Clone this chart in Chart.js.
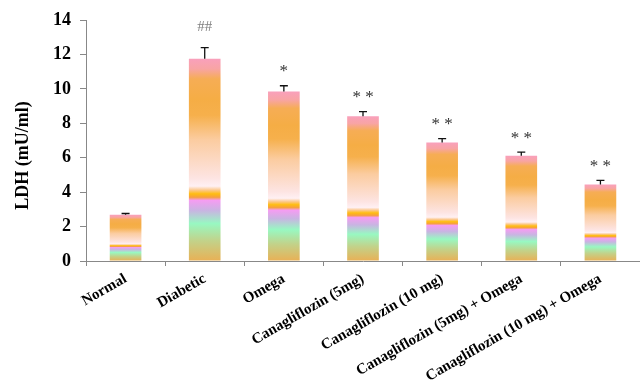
<!DOCTYPE html>
<html>
<head>
<meta charset="utf-8">
<script src="https://cdn.jsdelivr.net/npm/chart.js@4"></script>
<style>
  html, body { margin: 0; padding: 0; background: #fff; }
  #wrap { width: 640px; height: 387px; }
</style>
</head>
<body>
<div id="wrap"><canvas id="myChart"></canvas></div>
<script>
const groups = ["Normal", "Diabetic", "Omega", "Canagliflozin (5mg)", "Canagliflozin (10 mg)",
  "Canagliflozin (5mg) + Omega", "Canagliflozin (10 mg) + Omega"];
const ldhMean = [2.68, 11.75, 9.85, 8.41, 6.88, 6.12, 4.45];
const ldhErr = [0.08, 0.64, 0.33, 0.27, 0.23, 0.21, 0.23];
const sigMarks = ["", "##", "*", "* *", "* *", "* *", "* *"];
const yTicks = [0, 2, 4, 6, 8, 10, 12, 14];
const yTitle = "LDH (mU/ml)";

const serif = "'Liberation Serif', 'Times New Roman', serif";

// stops from bottom (0) to top (1) of each bar
const barStops = [
  [0, "#e9b055"], [0.1, "#c2d28a"], [0.185, "#98f8c2"], [0.25, "#c9b4e2"],
  [0.3, "#f59cf2"], [0.315, "#f6a040"], [0.332, "#ffbd10"], [0.35, "#fcc88a"],
  [0.37, "#fff0f3"], [0.41, "#fde4e2"], [0.6, "#fbcca0"], [0.72, "#f6b04c"],
  [0.8, "#f5ad45"], [0.9, "#f6ad55"], [0.95, "#f8a4a4"], [1, "#f9a0bc"]
];

function barFill(c) {
  const chart = c.chart;
  if (!chart.chartArea) return "#f5ad45";
  const y = chart.scales.y;
  const bottom = y.getPixelForValue(0);
  const top = y.getPixelForValue(c.raw);
  const g = chart.ctx.createLinearGradient(0, bottom, 0, top);
  barStops.forEach(s => g.addColorStop(s[0], s[1]));
  return g;
}

const errorBars = {
  id: "errorBars",
  afterDatasetsDraw(chart) {
    const ctx = chart.ctx;
    const y = chart.scales.y;
    const meta = chart.getDatasetMeta(0);
    ctx.save();
    meta.data.forEach((bar, i) => {
      const yTop = y.getPixelForValue(ldhMean[i] + ldhErr[i]);
      const yBar = y.getPixelForValue(ldhMean[i]);
      ctx.strokeStyle = "#111";
      ctx.lineWidth = 1.3;
      ctx.beginPath();
      ctx.moveTo(bar.x, yBar);
      ctx.lineTo(bar.x, yTop);
      ctx.moveTo(bar.x - 4, yTop);
      ctx.lineTo(bar.x + 4, yTop);
      ctx.stroke();
      if (sigMarks[i]) {
        const hash = sigMarks[i] === "##";
        ctx.fillStyle = hash ? "#808080" : "#333";
        ctx.font = (hash ? "15px " : "17px ") + serif;
        ctx.textAlign = "center";
        ctx.textBaseline = "middle";
        ctx.fillText(sigMarks[i], bar.x, yTop - (hash ? 21 : 14));
      }
    });
    // y axis title, sits a bit below the middle like the original
    ctx.translate(23, (chart.chartArea.top + chart.chartArea.bottom) / 2 + 15);
    ctx.rotate(-Math.PI / 2);
    ctx.fillStyle = "#000";
    ctx.font = "bold 18px " + serif;
    ctx.textAlign = "center";
    ctx.textBaseline = "middle";
    ctx.fillText(yTitle, 0, 0);
    ctx.restore();
  }
};

const ctx = document.getElementById("myChart").getContext("2d");
const chart = new Chart(ctx, {
  type: "bar",
  data: {
    labels: groups,
    datasets: [{
      label: "LDH",
      data: ldhMean,
      backgroundColor: barFill,
      borderWidth: 0,
      categoryPercentage: 1,
      barPercentage: 0.4
    }]
  },
  options: {
    responsive: true,
    maintainAspectRatio: false,
    animation: false,
    layout: { padding: { top: 20, right: 0, left: 0, bottom: 0 } },
    plugins: { legend: { display: false }, tooltip: { enabled: false } },
    scales: {
      x: {
        grid: { display: true, drawOnChartArea: false, tickLength: 5, color: "#888" },
        border: { color: "#888" },
        ticks: {
          color: "#000",
          font: { family: serif, size: 15, weight: "bold" },
          maxRotation: 30,
          minRotation: 30,
          autoSkip: false,
          padding: 4
        },
        afterFit(scale) { scale.height = 126; }
      },
      y: {
        min: 0,
        max: 14,
        afterBuildTicks(scale) { scale.ticks = yTicks.map(v => ({ value: v })); },
        grid: { display: true, drawOnChartArea: false, tickLength: 6, color: "#888" },
        border: { color: "#888" },
        ticks: {
          color: "#000",
          font: { family: serif, size: 18, weight: "bold" },
          padding: 9
        },
        afterFit(scale) { scale.width = 86; }
      }
    }
  },
  plugins: [errorBars]
});
</script>
</body>
</html>
